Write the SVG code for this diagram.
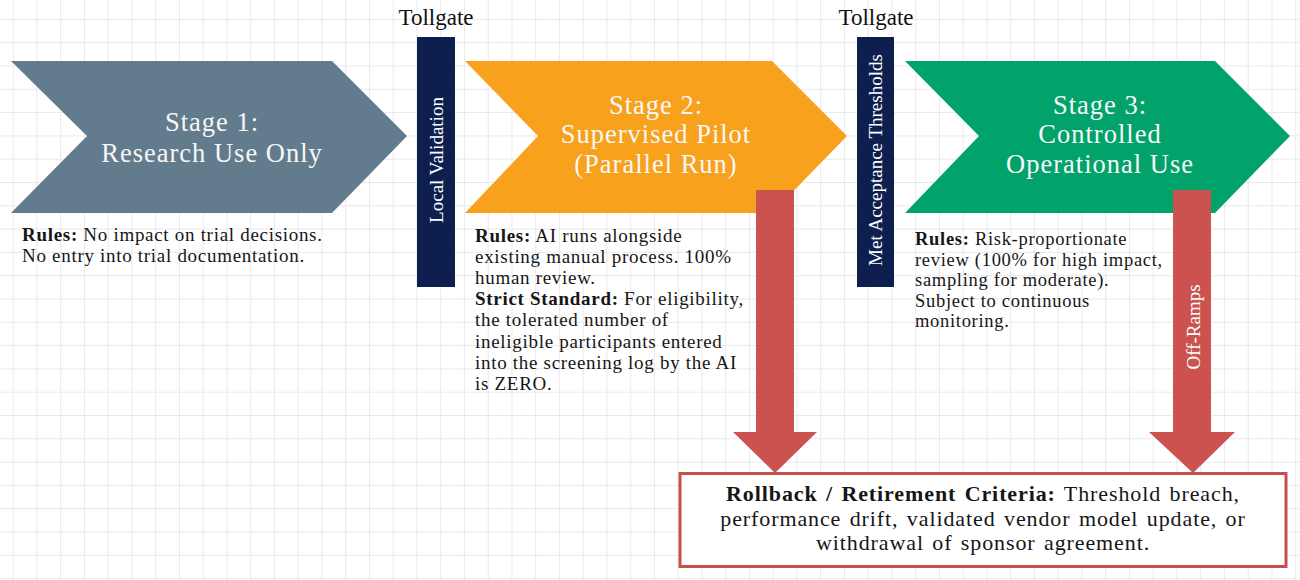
<svg xmlns="http://www.w3.org/2000/svg" width="1300" height="580" viewBox="0 0 1300 580">
  <defs>
    <pattern id="grid" x="12.7" y="18.9" width="23.75" height="23.3" patternUnits="userSpaceOnUse">
      <path d="M0 0 H23.75 M0 0 V23.3" fill="none" stroke="#e1e2e7" stroke-width="1.4"/>
    </pattern>
    <style>
      .title { font-family: "Liberation Serif", "Times New Roman", serif; font-size: 26.5px; letter-spacing: 1px; fill: #f7f7f7; text-anchor: middle; }
      .rules { font-family: "Liberation Serif", "Times New Roman", serif; font-size: 19px; letter-spacing: 0.7px; fill: #161616; }
      .rules3 { font-size: 18.5px; }
      .gate { font-family: "Liberation Serif", "Times New Roman", serif; font-size: 23px; fill: #111111; text-anchor: middle; }
      .vlabel { font-family: "Liberation Serif", "Times New Roman", serif; font-size: 19px; fill: #ffffff; text-anchor: middle; dominant-baseline: central; }
      .bar { fill: #0c1f4f; }
      .ramp { fill: #cc524f; }
      .boxtext { font-family: "Liberation Serif", "Times New Roman", serif; font-size: 22px; letter-spacing: 0.9px; word-spacing: 2px; fill: #161616; text-anchor: middle; }
      .b { font-weight: bold; }
    </style>
  </defs>
  <rect width="1300" height="580" fill="#ffffff"/>
  <rect width="1300" height="580" fill="url(#grid)"/>

  <g id="stage1">
    <polygon points="11,61 332,61 407,136 332,213 11,213 87,136" fill="#637c8d"/>
    <text class="title" x="212" y="130.5">Stage 1:<tspan x="212" dy="31">Research Use Only</tspan></text>
    <text class="rules" x="22" y="241"><tspan class="b">Rules:</tspan> No impact on trial decisions.<tspan x="22" dy="21.1">No entry into trial documentation.</tspan></text>
  </g>

  <g id="tollgate1">
    <text class="gate" x="436" y="25">Tollgate</text>
    <rect class="bar" x="417" y="37" width="38" height="250"/>
    <text class="vlabel" transform="translate(436,160) rotate(-90)">Local Validation</text>
  </g>

  <g id="stage2">
    <polygon points="465,61 772,61 847,136 772,213 465,213 538,136" fill="#f8a11d"/>
    <text class="title" x="656" y="113.5">Stage 2:<tspan x="656" dy="29.5">Supervised Pilot</tspan><tspan x="656" dy="29.5">(Parallel Run)</tspan></text>
    <text class="rules" x="475" y="242"><tspan class="b">Rules:</tspan> AI runs alongside<tspan x="475" dy="21.1">existing manual process. 100%</tspan><tspan x="475" dy="21.1">human review.</tspan><tspan x="475" dy="21.1" class="b">Strict Standard:</tspan> For eligibility,<tspan x="475" dy="21.1">the tolerated number of</tspan><tspan x="475" dy="21.1">ineligible participants entered</tspan><tspan x="475" dy="21.1">into the screening log by the AI</tspan><tspan x="475" dy="21.1">is ZERO.</tspan></text>
  </g>

  <g id="tollgate2">
    <text class="gate" x="876" y="25">Tollgate</text>
    <rect class="bar" x="857" y="37" width="37" height="250"/>
    <text class="vlabel" transform="translate(875.5,160) rotate(-90)">Met Acceptance Thresholds</text>
  </g>

  <g id="stage3">
    <polygon points="905,61 1215,61 1290,136 1215,213 905,213 979,136" fill="#01a36a"/>
    <text class="title" x="1100" y="113.5">Stage 3:<tspan x="1100" dy="29.5">Controlled</tspan><tspan x="1100" dy="29.5">Operational Use</tspan></text>
    <text class="rules rules3" x="915" y="245"><tspan class="b">Rules:</tspan> Risk-proportionate<tspan x="915" dy="20.6">review (100% for high impact,</tspan><tspan x="915" dy="20.6">sampling for moderate).</tspan><tspan x="915" dy="20.6">Subject to continuous</tspan><tspan x="915" dy="20.6">monitoring.</tspan></text>
  </g>

  <g id="connectors">
    <polygon class="ramp" points="756,190 794,190 794,432 817,432 775,473 733,432 756,432"/>
    <polygon class="ramp" points="1173,190 1211,190 1211,432 1235,432 1193,473 1149,432 1173,432"/>
    <text class="vlabel" transform="translate(1193,327) rotate(-90)" font-size="20">Off-Ramps</text>
  </g>

  <g id="rollback">
    <rect x="680" y="473.5" width="606" height="93" fill="#ffffff" stroke="#c4514e" stroke-width="3"/>
    <text class="boxtext" x="983" y="501"><tspan class="b">Rollback / Retirement Criteria:</tspan> Threshold breach,<tspan x="983" dy="24.5">performance drift, validated vendor model update, or</tspan><tspan x="983" dy="24.5">withdrawal of sponsor agreement.</tspan></text>
  </g>
</svg>
